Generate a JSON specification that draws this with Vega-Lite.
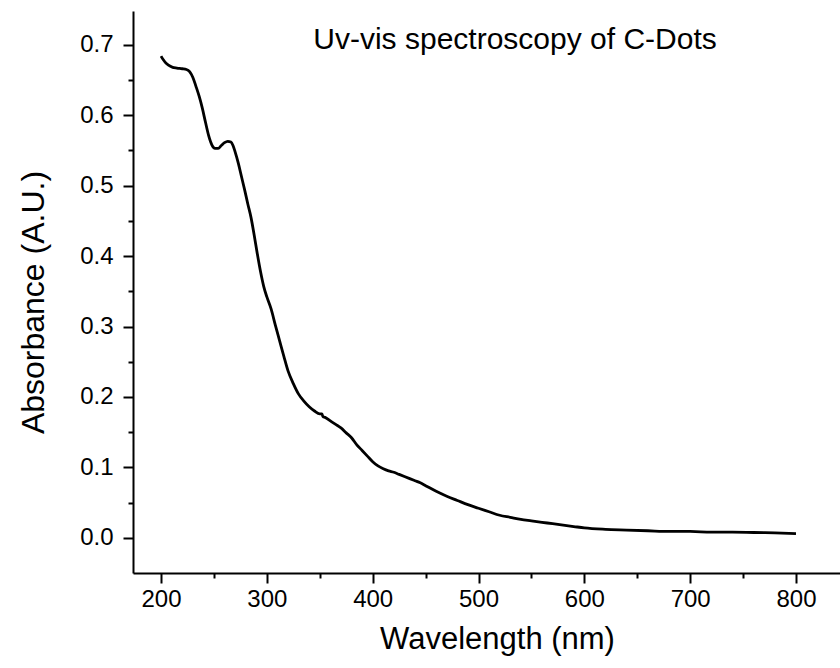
{
  "$schema": "https://vega.github.io/schema/vega-lite/v6.json",
  "width": 707,
  "height": 562,
  "autosize": {"type": "none"},
  "padding": {"left": 133, "top": 11, "right": 0, "bottom": 95},
  "background": "white",
  "config": {
    "view": {"stroke": null},
    "font": "Liberation Sans",
    "axis": {
      "grid": false,
      "domainColor": "black",
      "domainWidth": 2,
      "tickColor": "black",
      "tickWidth": 2,
      "labelColor": "black",
      "labelFont": "Liberation Sans",
      "titleFont": "Liberation Sans",
      "titleColor": "black",
      "titleFontWeight": "normal"
    }
  },
  "datasets": {
    "spectrum": [
      {"nm": 200, "abs": 0.684}, {"nm": 202, "abs": 0.679}, {"nm": 204, "abs": 0.675},
      {"nm": 207, "abs": 0.671}, {"nm": 211, "abs": 0.668}, {"nm": 215, "abs": 0.667},
      {"nm": 220, "abs": 0.666}, {"nm": 224, "abs": 0.665}, {"nm": 227, "abs": 0.662},
      {"nm": 230, "abs": 0.654}, {"nm": 233, "abs": 0.641}, {"nm": 236, "abs": 0.627},
      {"nm": 239, "abs": 0.610}, {"nm": 242, "abs": 0.590}, {"nm": 245, "abs": 0.571},
      {"nm": 248, "abs": 0.558}, {"nm": 251, "abs": 0.553}, {"nm": 254, "abs": 0.553},
      {"nm": 257, "abs": 0.557}, {"nm": 260, "abs": 0.561}, {"nm": 263, "abs": 0.563},
      {"nm": 266, "abs": 0.562}, {"nm": 268, "abs": 0.557}, {"nm": 270, "abs": 0.548},
      {"nm": 273, "abs": 0.532}, {"nm": 276, "abs": 0.513}, {"nm": 279, "abs": 0.494},
      {"nm": 282, "abs": 0.474}, {"nm": 285, "abs": 0.455}, {"nm": 288, "abs": 0.430},
      {"nm": 291, "abs": 0.403}, {"nm": 294, "abs": 0.378}, {"nm": 297, "abs": 0.357},
      {"nm": 300, "abs": 0.342}, {"nm": 304, "abs": 0.325}, {"nm": 308, "abs": 0.302},
      {"nm": 312, "abs": 0.280}, {"nm": 316, "abs": 0.258}, {"nm": 320, "abs": 0.237},
      {"nm": 325, "abs": 0.219}, {"nm": 330, "abs": 0.204}, {"nm": 335, "abs": 0.194},
      {"nm": 340, "abs": 0.186}, {"nm": 345, "abs": 0.180}, {"nm": 350, "abs": 0.176},
      {"nm": 352, "abs": 0.176}, {"nm": 353, "abs": 0.172}, {"nm": 355, "abs": 0.171},
      {"nm": 360, "abs": 0.166}, {"nm": 365, "abs": 0.161}, {"nm": 370, "abs": 0.156},
      {"nm": 375, "abs": 0.149}, {"nm": 380, "abs": 0.142}, {"nm": 385, "abs": 0.132},
      {"nm": 390, "abs": 0.124}, {"nm": 395, "abs": 0.116}, {"nm": 400, "abs": 0.108},
      {"nm": 405, "abs": 0.102}, {"nm": 410, "abs": 0.098}, {"nm": 415, "abs": 0.095},
      {"nm": 420, "abs": 0.093}, {"nm": 425, "abs": 0.090}, {"nm": 430, "abs": 0.087},
      {"nm": 435, "abs": 0.084}, {"nm": 440, "abs": 0.081}, {"nm": 445, "abs": 0.078},
      {"nm": 450, "abs": 0.074}, {"nm": 460, "abs": 0.066}, {"nm": 470, "abs": 0.059},
      {"nm": 480, "abs": 0.053}, {"nm": 490, "abs": 0.047}, {"nm": 500, "abs": 0.042},
      {"nm": 510, "abs": 0.037}, {"nm": 520, "abs": 0.032}, {"nm": 530, "abs": 0.029},
      {"nm": 540, "abs": 0.026}, {"nm": 550, "abs": 0.024}, {"nm": 560, "abs": 0.022},
      {"nm": 570, "abs": 0.020}, {"nm": 580, "abs": 0.018}, {"nm": 590, "abs": 0.016},
      {"nm": 600, "abs": 0.014}, {"nm": 620, "abs": 0.012}, {"nm": 640, "abs": 0.011},
      {"nm": 660, "abs": 0.010}, {"nm": 680, "abs": 0.009}, {"nm": 700, "abs": 0.009},
      {"nm": 720, "abs": 0.008}, {"nm": 740, "abs": 0.008}, {"nm": 760, "abs": 0.0075},
      {"nm": 780, "abs": 0.007}, {"nm": 800, "abs": 0.006}
    ],
    "annotation": [
      {"nm": 534.5, "abs": 0.694, "label": "Uv-vis spectroscopy of C-Dots"}
    ]
  },
  "layer": [
    {
      "data": {"name": "spectrum"},
      "mark": {"type": "line", "color": "black", "strokeWidth": 2.8, "interpolate": "monotone"},
      "encoding": {
        "x": {
          "field": "nm", "type": "quantitative",
          "scale": {"domain": [173.5, 841.6], "nice": false, "zero": false},
          "axis": {
            "orient": "bottom",
            "values": [200, 300, 400, 500, 600, 700, 800],
            "tickSize": 10,
            "labelFontSize": 24,
            "labelPadding": 4,
            "title": "Wavelength (nm)",
            "titleFontSize": 31,
            "titleX": 364,
            "titleY": 75,
            "titleBaseline": "alphabetic"
          }
        },
        "y": {
          "field": "abs", "type": "quantitative",
          "scale": {"domain": [-0.05, 0.748], "nice": false, "zero": false},
          "axis": {
            "orient": "left",
            "values": [0, 0.1, 0.2, 0.3, 0.4, 0.5, 0.6, 0.7],
            "format": ".1f",
            "tickSize": 10,
            "labelFontSize": 24,
            "labelPadding": 10,
            "title": "Absorbance (A.U.)",
            "titleFontSize": 32,
            "titleX": -90,
            "titleY": 291,
            "titleBaseline": "alphabetic"
          }
        }
      }
    },
    {
      "data": {"name": "spectrum"},
      "mark": {"type": "line", "opacity": 0},
      "encoding": {
        "x": {
          "field": "nm", "type": "quantitative",
          "axis": {
            "orient": "bottom",
            "values": [250, 350, 450, 550, 650, 750],
            "tickSize": 5,
            "labels": false,
            "domain": false,
            "title": null
          }
        },
        "y": {
          "field": "abs", "type": "quantitative",
          "axis": {
            "orient": "left",
            "values": [0.05, 0.15, 0.25, 0.35, 0.45, 0.55, 0.65],
            "tickSize": 5,
            "labels": false,
            "domain": false,
            "title": null
          }
        }
      }
    },
    {
      "data": {"name": "annotation"},
      "mark": {"type": "text", "font": "Liberation Sans", "fontSize": 30, "color": "black", "align": "center", "baseline": "alphabetic"},
      "encoding": {
        "x": {"field": "nm", "type": "quantitative", "axis": null},
        "y": {"field": "abs", "type": "quantitative", "axis": null},
        "text": {"field": "label"}
      }
    }
  ],
  "resolve": {"axis": {"x": "independent", "y": "independent"}}
}
